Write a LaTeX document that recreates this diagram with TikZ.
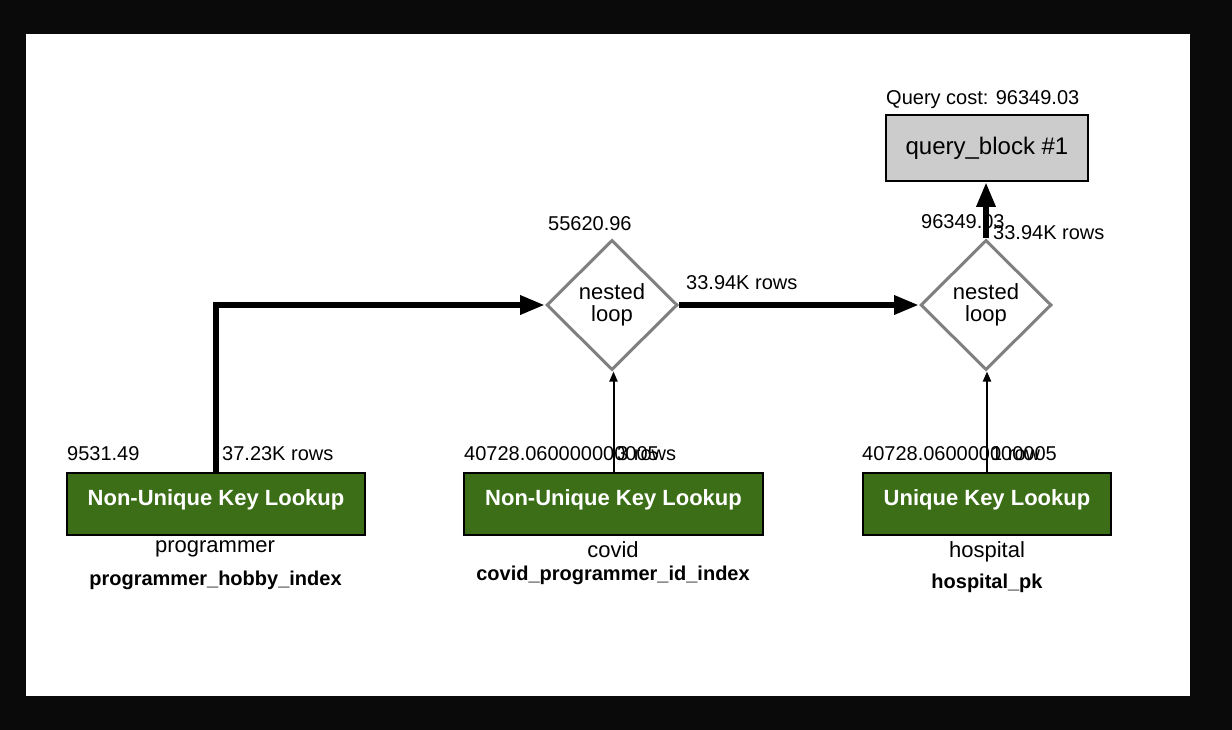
\documentclass[tikz,border=0pt]{standalone}
\usepackage{fontspec}
\setmainfont{Liberation Sans}
\usetikzlibrary{arrows.meta,shapes.geometric}
\definecolor{frameblk}{HTML}{0A0A0A}
\definecolor{opgreen}{HTML}{3B6E17}
\definecolor{qgray}{HTML}{CCCCCC}
\definecolor{dgray}{HTML}{808080}
\begin{document}
\begin{tikzpicture}[x=1pt,y=-1pt,
  lbl/.style={anchor=base west, inner sep=0pt, font=\fontsize{20}{24}\selectfont},
  tbl/.style={anchor=base, inner sep=0pt, font=\fontsize{22}{26}\selectfont},
  idx/.style={anchor=base, inner sep=0pt, font=\fontsize{20}{24}\selectfont\bfseries},
  opbox/.style={draw=black, line width=2pt, fill=opgreen, text=white,
    minimum height=62pt, inner xsep=21pt, inner ysep=0pt,
    text height=10pt, text depth=6.6pt,
    font=\fontsize{22}{26}\selectfont\bfseries},
  qbox/.style={draw=black, line width=2pt, fill=qgray, minimum width=202pt,
    minimum height=66pt, font=\fontsize{24}{28}\selectfont},
  joinnode/.style={diamond, draw=dgray, line width=3pt, fill=white,
    minimum width=131pt, minimum height=130pt, inner sep=0pt, align=center,
    font=\fontsize{22}{22}\selectfont},
  thickedge/.style={line width=6.5pt, -{Triangle[length=25pt,width=18pt]}},
  thinedge/.style={line width=2pt, -{Triangle[length=10pt,width=8pt]}}
]
\useasboundingbox (0,0) rectangle (1232,730);
\fill[frameblk] (0,0) rectangle (1232,730);
\fill[white] (26,34) rectangle (1190,696);

% nodes
\node[qbox] (q) at (987,148) {query\_block \#1};
\node[joinnode] (d1) at (612,305) {nested\\loop};
\node[joinnode] (d2) at (986,305) {nested\\loop};
\node[opbox] (b1) at (216,504) {Non-Unique Key Lookup};
\node[opbox] (b2) at (613.5,504) {Non-Unique Key Lookup};
\node[opbox] (b3) at (987,504) {Unique Key Lookup};

% labels
\node[lbl] (qcost) at (886,105) {Query cost: 96349.03};
\node[lbl] (c1) at (548,231) {55620.96};
\node[lbl] (c2) at (921,229) {96349.03};
\node[lbl] (r2) at (993,240) {33.94K rows};
\node[lbl] (r1) at (686,289) {33.94K rows};
\node[lbl] (cb1) at (67,460) {9531.49};
\node[lbl] (rb1) at (222,460) {37.23K rows};
\node[lbl] (cb2) at (464,460) {40728.060000000005};
\node[lbl] (rb2) at (617,460) {3 rows};
\node[lbl] (cb3) at (862,460) {40728.060000000005};
\node[lbl] (rb3) at (991,460) {1 row};

\node[tbl] (t1) at (215,552) {programmer};
\node[idx] (i1) at (215.5,585) {programmer\_hobby\_index};
\node[tbl] (t2) at (613,557) {covid};
\node[idx] (i2) at (613,580) {covid\_programmer\_id\_index};
\node[tbl] (t3) at (987,557) {hospital};
\node[idx] (i3) at (987,588) {hospital\_pk};

% edges
\draw[thickedge] (b1.north) |- (d1.west);
\draw[thinedge] (b2.north) -- (b2.north |- d1.south);
\draw[thickedge] (d1.east) -- (d2.west);
\draw[thinedge] (b3.north) -- (b3.north |- d2.south);
\draw[thickedge] (d2.north) -- (d2.north |- q.south);
\end{tikzpicture}
\end{document}
